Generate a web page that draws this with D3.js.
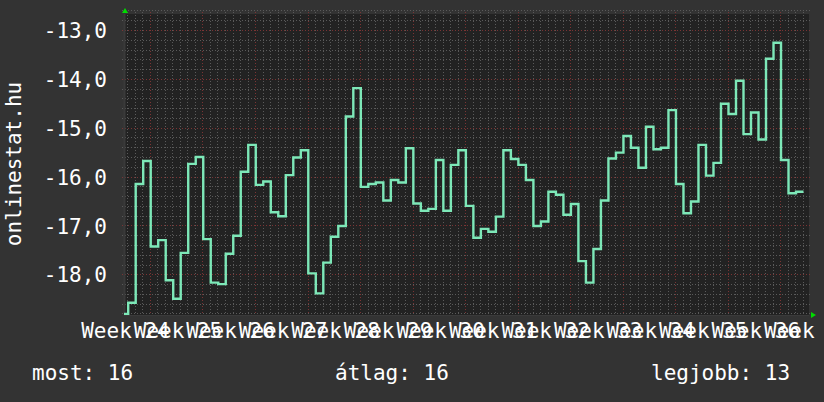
<!DOCTYPE html>
<html>
<head>
<meta charset="utf-8">
<script src="https://cdn.jsdelivr.net/npm/d3@7"></script>
<style>
  html, body { margin: 0; padding: 0; background: #333333; }
  svg { display: block; }
  text { font-family: "DejaVu Sans Mono", monospace; font-size: 21px; fill: #ffffff; }
</style>
</head>
<body>
<svg id="chart" width="824" height="402"></svg>
<script>
// daily values (negated position), first one is the partial day at the left edge
var values = [
  -18.81,
  -18.58, -16.15, -15.68, -17.43, -17.30, -18.12, -18.50, -17.56, -15.74, -15.60,
  -17.28, -18.17, -18.20, -17.58, -17.21, -15.90, -15.35, -16.17, -16.10, -16.73,
  -16.81, -15.97, -15.61, -15.46, -17.98, -18.39, -17.76, -17.23, -17.01, -14.77,
  -14.19, -16.21, -16.15, -16.12, -16.49, -16.07, -16.12, -15.42, -16.55, -16.70,
  -16.66, -15.66, -16.70, -15.76, -15.46, -16.60, -17.25, -17.07, -17.13, -16.82,
  -15.46, -15.64, -15.76, -16.07, -17.01, -16.92, -16.31, -16.37, -16.78, -16.56,
  -17.73, -18.17, -17.48, -16.49, -15.63, -15.51, -15.17, -15.41, -15.82, -14.98,
  -15.44, -15.41, -14.64, -16.15, -16.75, -16.51, -15.35, -15.98, -15.72, -14.51,
  -14.72, -14.04, -15.13, -14.69, -15.24, -13.59, -13.26, -15.66, -16.34, -16.31
];
var firstDay = -3.9;   // day of first value, day 0 = first week line
var weekLabels = ["Week 24", "Week 25", "Week 26", "Week 27", "Week 28", "Week 29", "Week 30",
                  "Week 31", "Week 32", "Week 33", "Week 34", "Week 35", "Week 36", "Week 37"];
var yTicks = [-18, -17, -16, -15, -14, -13];
var summaryNames = ["most", "átlag", "legjobb"];
var summaryValues = ["16", "16", "13"];

var plot = {left: 124, right: 809, top: 14, bottom: 315};
var svg = d3.select("#chart");

var huLocale = d3.formatLocale({decimal: ",", thousands: " ", grouping: [3], currency: ["", " Ft"], minus: "-"});
var fmt = huLocale.format(".1f");

var x = d3.scaleLinear().domain([-3.46, 87.83]).range([plot.left, plot.right]);
var y = d3.scaleLinear().domain([-18.832, -12.673]).range([plot.bottom, plot.top]);

// canvas
svg.append("rect")
  .attr("x", plot.left).attr("y", plot.top)
  .attr("width", plot.right - plot.left).attr("height", plot.bottom - plot.top)
  .attr("fill", "#222222");

// grid
var minorX = d3.range(-3, 88, 1).filter(function(d){ return d % 7 != 0; });
var majorX = d3.range(0, 88, 7);
var minorY = d3.range(-18.8, -12.6, 0.2).filter(function(d){ return Math.abs(d - Math.round(d)) > 0.01; });

function vLines(g, data, color){
  g.selectAll(null).data(data).enter().append("line")
    .attr("x1", function(d){ return Math.round(x(d)) + 0.5; })
    .attr("x2", function(d){ return Math.round(x(d)) + 0.5; })
    .attr("y1", plot.top - 2).attr("y2", plot.bottom + 2)
    .attr("shape-rendering", "crispEdges")
    .style("stroke", color).style("stroke-dasharray", "1,2");
}
function hLines(g, data, color){
  g.selectAll(null).data(data).enter().append("line")
    .attr("y1", function(d){ return Math.round(y(d)) + 0.5; })
    .attr("y2", function(d){ return Math.round(y(d)) + 0.5; })
    .attr("x1", plot.left - 2).attr("x2", plot.right + 2)
    .attr("shape-rendering", "crispEdges")
    .style("stroke", color).style("stroke-dasharray", "1,2");
}
var grid = svg.append("g");
vLines(grid, minorX, "#5a5a5a");
hLines(grid, minorY, "#5a5a5a");
vLines(grid, majorX, "#7a3434");
hLines(grid, yTicks, "#7a3434");

// axis lines
svg.append("line").attr("x1", plot.left + 0.5).attr("x2", plot.left + 0.5)
  .attr("y1", plot.top).attr("y2", plot.bottom).style("stroke", "#3a3a3a").style("stroke-width", 2);
svg.append("line").attr("x1", plot.left).attr("x2", plot.right)
  .attr("y1", plot.bottom + 0.5).attr("y2", plot.bottom + 0.5).style("stroke", "#3a3a3a");

// y labels
var yAxis = d3.axisLeft(y).tickValues(yTicks).tickFormat(fmt).tickSize(0).tickPadding(0);
svg.append("g").attr("class", "yAxis")
  .attr("transform", "translate(107,0)")
  .call(yAxis)
  .call(function(g){ g.select(".domain").remove(); })
  .selectAll("text")
  .attr("font-family", "DejaVu Sans Mono").attr("font-size", 21)
  .attr("fill", "#ffffff").attr("dy", "0.36em");

// x labels
var xAxis = d3.axisBottom(x)
  .tickValues(weekLabels.map(function(d, i){ return -3.33 + 7 * i; }))
  .tickFormat(function(d, i){ return weekLabels[i]; })
  .tickSize(0).tickPadding(0);
svg.append("g").attr("class", "xAxis")
  .attr("transform", "translate(0,338)")
  .call(xAxis)
  .call(function(g){ g.select(".domain").remove(); })
  .selectAll("text")
  .attr("font-family", "DejaVu Sans Mono").attr("font-size", 21)
  .attr("fill", "#ffffff").attr("dy", 0);

// data line
svg.append("clipPath").attr("id", "clip").append("rect")
  .attr("x", plot.left).attr("y", plot.top - 1)
  .attr("width", plot.right - plot.left).attr("height", plot.bottom - plot.top + 1);
var points = values.map(function(v, i){ return [firstDay + i, v]; });
points.push([firstDay + values.length, values[values.length - 1]]);
var line = d3.line()
  .x(function(d){ return x(d[0]); })
  .y(function(d){ return y(d[1]); })
  .curve(d3.curveStepAfter);
svg.append("path")
  .attr("clip-path", "url(#clip)")
  .attr("d", line(points))
  .style("fill", "none")
  .style("stroke", "#7de8b8")
  .style("stroke-width", 2.4);

// arrows
svg.append("path").attr("d", "M122,13 L128,13 L125,8 Z").attr("fill", "#00dd00");
svg.append("path").attr("d", "M811,312 L811,318 L816,315 Z").attr("fill", "#00dd00");

// vertical title
svg.append("text")
  .attr("transform", "translate(21,164) rotate(-90)")
  .attr("text-anchor", "middle")
  .text("onlinestat.hu");

// summary
var summaryX = [32, 335, 651];
svg.selectAll("text.summary").data(summaryNames).enter().append("text")
  .attr("class", "summary")
  .attr("x", function(d, i){ return summaryX[i]; })
  .attr("y", 380)
  .text(function(d, i){ return d + ": " + summaryValues[i]; });
</script>
</body>
</html>
